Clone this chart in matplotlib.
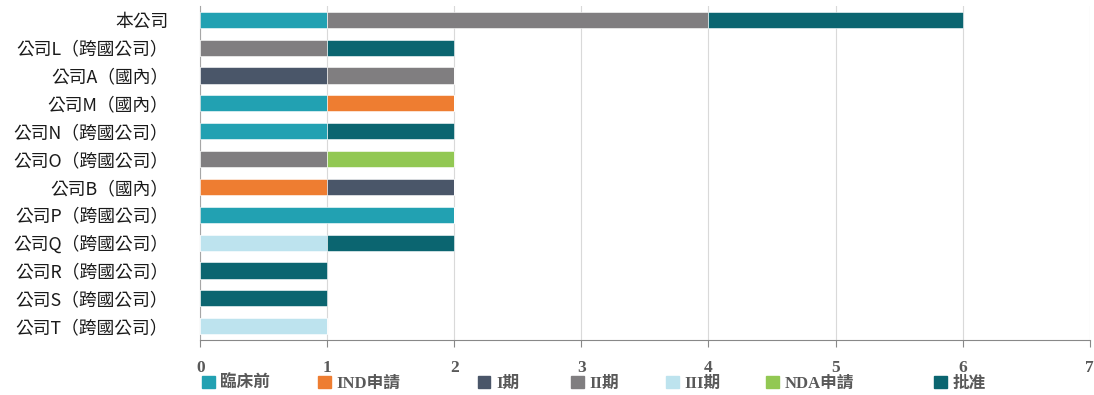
import matplotlib
matplotlib.use("Agg")
import matplotlib.pyplot as plt
from matplotlib.patches import Patch

# Data
companies = ["本公司", "公司L（跨國公司）", "公司A（國內）", "公司M（國內）",
             "公司N（跨國公司）", "公司O（跨國公司）", "公司B（國內）",
             "公司P（跨國公司）", "公司Q（跨國公司）", "公司R（跨國公司）",
             "公司S（跨國公司）", "公司T（跨國公司）"]
stages = ["臨床前", "IND申請", "I期", "II期", "III期", "NDA申請", "批准"]

preclinical = [1, 0, 0, 1, 1, 0, 0, 2, 0, 0, 0, 0]
ind_filing  = [0, 0, 0, 1, 0, 0, 1, 0, 0, 0, 0, 0]
phase1      = [0, 0, 1, 0, 0, 0, 1, 0, 0, 0, 0, 0]
phase2      = [3, 1, 1, 0, 0, 1, 0, 0, 0, 0, 0, 0]
phase3      = [0, 0, 0, 0, 0, 0, 0, 0, 1, 0, 0, 1]
nda_filing  = [0, 0, 0, 0, 0, 1, 0, 0, 0, 0, 0, 0]
approved    = [2, 1, 0, 0, 1, 0, 0, 0, 1, 1, 1, 0]

series = [preclinical, ind_filing, phase1, phase2, phase3, nda_filing, approved]
colors = ["#22A1B2", "#EE7D31", "#4A5669", "#807E80", "#BDE3EE", "#92C853", "#0B6570"]

fig = plt.figure(figsize=(10.94, 3.95), dpi=100)
ax = fig.add_axes([0.183, 0.139, 0.813, 0.846])

y = list(range(len(companies)))
left = [0] * len(companies)
for vals, c in zip(series, colors):
    ax.barh(y, vals, left=left, height=0.58, color=c, edgecolor="white",
            linewidth=0.4, zorder=3)
    left = [a + b for a, b in zip(left, vals)]

ax.set_ylim(len(companies) - 0.5, -0.5)
ax.set_xlim(0, 7)
ax.set_xticks(range(8))
ax.grid(axis="x", color="#D9D9D9", linewidth=0.8, zorder=0)

ax.set_yticks(y)
ax.set_yticklabels(companies, family=["Noto Sans CJK TC", "DejaVu Sans"],
                   fontsize=12.8, color="#1a1a1a")
ax.tick_params(axis="y", length=0, pad=23)
for lbl in ax.get_xticklabels():
    lbl.set_family(["Liberation Serif"])
    lbl.set_fontweight("bold")
    lbl.set_fontsize(12.5)
    lbl.set_color("#595959")
ax.tick_params(axis="x", length=5, color="#888888", pad=9)

for s in ["top", "right"]:
    ax.spines[s].set_visible(False)
ax.spines["left"].set_color("#A6A6A6")
ax.spines["bottom"].set_color("#888888")

# legend entries placed individually like the original
legend_x = [202, 318, 478, 571, 666, 766, 934]
for name, c, px in zip(stages, colors, legend_x):
    h = [Patch(facecolor=c, edgecolor=c)]
    leg = fig.legend(h, [name], loc="center left",
                     bbox_to_anchor=(px / 1094, 1 - 384 / 395),
                     frameon=False, handlelength=0.75, handleheight=0.75,
                     handletextpad=0.35, borderpad=0, borderaxespad=0,
                     prop={"family": ["Liberation Serif", "Noto Sans CJK TC"],
                           "weight": "bold", "size": 12})
    for t in leg.get_texts():
        t.set_color("#595959")

fig.savefig("out.png", dpi=100)
